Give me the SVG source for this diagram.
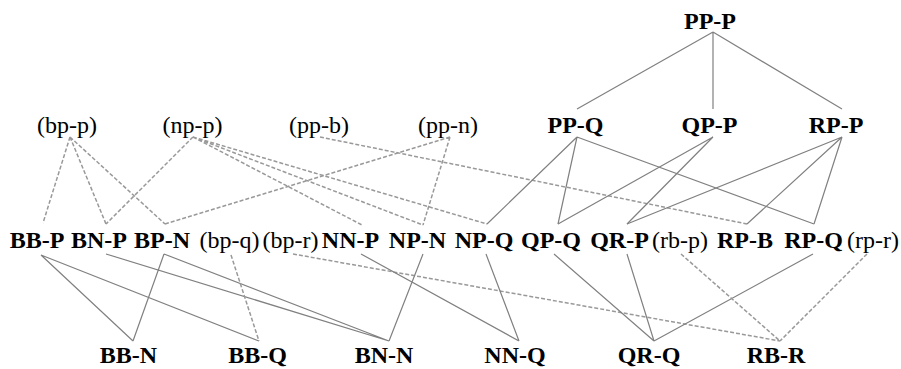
<svg xmlns="http://www.w3.org/2000/svg" width="901" height="369" viewBox="0 0 901 369">
<style>
text{font-family:"Liberation Serif","Times New Roman",serif;font-size:24px;fill:#000;text-anchor:middle}
.b{font-weight:bold}
.s{stroke:#808080;stroke-width:1.2;fill:none}
.d{stroke:#999;stroke-width:1.5;fill:none;stroke-dasharray:4,2}
</style>
<rect width="901" height="369" fill="#fff"/>
<g id="connectors">
<path class="s" d="M713 32L577 109M713 32L713 109M713 32L842 109"/>
<path class="d" d="M70 137L43 223M70 137L106 224M70 137L165 224"/>
<path class="d" d="M193 137L106 224M193 137L362 225M193 137L423 225M193 137L487 224"/>
<path class="d" d="M320 137L747 224"/>
<path class="d" d="M450 137L165 224M450 137L423 225"/>
<path class="s" d="M577 137L487 224M577 137L558 224M577 137L814 224"/>
<path class="s" d="M713 137L558 224M713 137L627 224"/>
<path class="s" d="M842 137L627 224M842 137L747 224M842 137L814 224"/>
<path class="s" d="M41 255L133 341M41 255L259 341M106 254L389 341M164 254L133 341M164 254L389 341"/>
<path class="d" d="M231 255L259 341M293 254L780 341"/>
<path class="s" d="M361 254L519 341M423 254L389 341M486 254L519 341"/>
<path class="s" d="M554 254L654 341M627 254L654 341M813 254L654 341"/>
<path class="d" d="M681 254L780 341M867 254L780 341"/>
</g>
<g id="PP-P"><text class="b" x="710" y="29">PP-P</text></g>
<g id="bp-p"><text x="67" y="133">(bp-p)</text></g>
<g id="np-p"><text x="192.5" y="133">(np-p)</text></g>
<g id="pp-b"><text x="319" y="133">(pp-b)</text></g>
<g id="pp-n"><text x="448" y="133">(pp-n)</text></g>
<g id="PP-Q"><text class="b" x="575.5" y="133">PP-Q</text></g>
<g id="QP-P"><text class="b" x="709.5" y="133">QP-P</text></g>
<g id="RP-P"><text class="b" x="836" y="133">RP-P</text></g>
<g id="BB-P"><text class="b" x="37" y="248">BB-P</text></g>
<g id="BN-P"><text class="b" x="99" y="248">BN-P</text></g>
<g id="BP-N"><text class="b" x="162" y="248">BP-N</text></g>
<g id="bp-q"><text x="229.5" y="248">(bp-q)</text></g>
<g id="bp-r"><text x="290.5" y="248">(bp-r)</text></g>
<g id="NN-P"><text class="b" x="350.5" y="248">NN-P</text></g>
<g id="NP-N"><text class="b" x="417.5" y="248">NP-N</text></g>
<g id="NP-Q"><text class="b" x="484" y="248">NP-Q</text></g>
<g id="QP-Q"><text class="b" x="551" y="248">QP-Q</text></g>
<g id="QR-P"><text class="b" x="619.5" y="248">QR-P</text></g>
<g id="rb-p"><text x="680" y="248">(rb-p)</text></g>
<g id="RP-B"><text class="b" x="745" y="248">RP-B</text></g>
<g id="RP-Q"><text class="b" x="813.5" y="248">RP-Q</text></g>
<g id="rp-r"><text x="873" y="248">(rp-r)</text></g>
<g id="BB-N"><text class="b" x="128.5" y="363">BB-N</text></g>
<g id="BB-Q"><text class="b" x="257.5" y="363">BB-Q</text></g>
<g id="BN-N"><text class="b" x="384" y="363">BN-N</text></g>
<g id="NN-Q"><text class="b" x="515" y="363">NN-Q</text></g>
<g id="QR-Q"><text class="b" x="649" y="363">QR-Q</text></g>
<g id="RB-R"><text class="b" x="776" y="363">RB-R</text></g>
</svg>
